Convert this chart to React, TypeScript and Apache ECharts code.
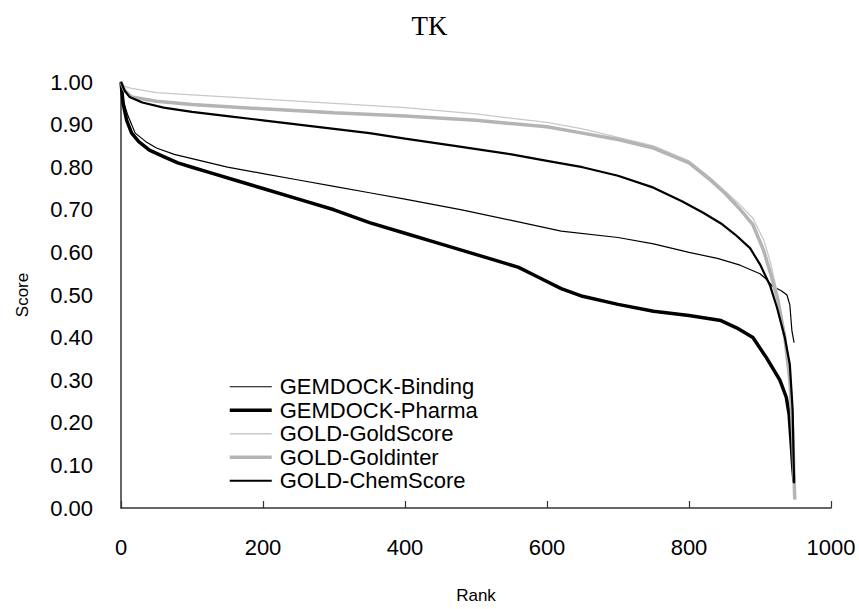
import React, { useEffect, useRef } from "react";
import * as echarts from "echarts";

// Rank positions and scores for each scoring function
const bindingRank = [0, 4, 10, 20, 35, 50, 75, 100, 150, 200, 250, 300, 350, 400, 480, 550, 620, 700, 750, 800, 840, 872, 900, 907, 918, 930, 938, 942, 945, 948];
const bindingScore = [1.0, 0.95, 0.92, 0.88, 0.86, 0.845, 0.83, 0.82, 0.80, 0.785, 0.77, 0.755, 0.74, 0.725, 0.70, 0.675, 0.65, 0.635, 0.62, 0.60, 0.586, 0.57, 0.55, 0.54, 0.52, 0.51, 0.50, 0.477, 0.415, 0.388];

const pharmaRank = [0, 3, 8, 15, 25, 40, 60, 80, 100, 130, 160, 200, 250, 300, 350, 400, 450, 490, 530, 560, 590, 620, 650, 700, 750, 800, 845, 867, 890, 909, 928, 937, 941, 944, 946, 948];
const pharmaScore = [1.0, 0.95, 0.91, 0.88, 0.86, 0.84, 0.825, 0.81, 0.80, 0.785, 0.77, 0.75, 0.725, 0.70, 0.67, 0.645, 0.62, 0.60, 0.58, 0.565, 0.54, 0.515, 0.497, 0.478, 0.462, 0.452, 0.44, 0.423, 0.40, 0.353, 0.30, 0.26, 0.22, 0.15, 0.10, 0.06];

const goldScoreRank = [0, 5, 15, 50, 100, 200, 300, 400, 500, 600, 650, 700, 750, 800, 830, 850, 870, 890, 905, 915, 925, 935, 942, 946, 948, 949];
const goldScoreScore = [1.0, 0.99, 0.985, 0.975, 0.97, 0.96, 0.95, 0.94, 0.925, 0.905, 0.89, 0.87, 0.85, 0.815, 0.775, 0.745, 0.715, 0.68, 0.63, 0.575, 0.50, 0.41, 0.31, 0.18, 0.08, 0.02];

const goldInterRank = [0, 5, 15, 50, 100, 200, 300, 400, 500, 600, 650, 700, 750, 800, 830, 850, 870, 890, 905, 915, 925, 935, 942, 946, 948, 949];
const goldInterScore = [1.0, 0.98, 0.965, 0.955, 0.947, 0.937, 0.928, 0.92, 0.91, 0.895, 0.88, 0.865, 0.845, 0.81, 0.77, 0.74, 0.705, 0.665, 0.605, 0.55, 0.49, 0.40, 0.30, 0.18, 0.07, 0.02];

const chemScoreRank = [0, 5, 12, 30, 60, 100, 150, 200, 250, 300, 350, 400, 470, 550, 600, 650, 700, 750, 790, 820, 845, 865, 886, 900, 914, 924, 935, 942, 946, 948];
const chemScoreScore = [1.0, 0.98, 0.965, 0.952, 0.94, 0.93, 0.92, 0.91, 0.90, 0.89, 0.88, 0.867, 0.85, 0.83, 0.815, 0.80, 0.78, 0.752, 0.72, 0.693, 0.668, 0.642, 0.61, 0.572, 0.523, 0.47, 0.40, 0.337, 0.23, 0.058];

const xTicks = { min: 0, max: 1000, interval: 200 };
const yTicks = { min: 0, max: 1, interval: 0.1 };

const pairs = (xs: number[], ys: number[]) => xs.map((x, i) => [x, ys[i]]);

const SANS = "'Liberation Sans', Arial, sans-serif";

// Stroke for each method: colour and width, shared by the curve and its legend key
const styles: Record<string, { color: string; width: number }> = {
  "GEMDOCK-Binding": { color: "#000000", width: 1.2 },
  "GEMDOCK-Pharma": { color: "#000000", width: 3.5 },
  "GOLD-GoldScore": { color: "#c8c8c8", width: 1.3 },
  "GOLD-Goldinter": { color: "#b4b4b4", width: 3.5 },
  "GOLD-ChemScore": { color: "#000000", width: 2.2 },
};

export default function App() {
  const ref = useRef<HTMLDivElement>(null);

  useEffect(() => {
    if (!ref.current) return;
    const chart = echarts.init(ref.current, undefined, { renderer: "svg" });

    const line = (name: string, data: number[][]) => ({
      name,
      type: "line",
      data,
      symbol: "none",
      showSymbol: false,
      lineStyle: { color: styles[name].color, width: styles[name].width },
      itemStyle: { color: styles[name].color, opacity: 0 },
      z: 2,
    });

    const names = Object.keys(styles);

    chart.setOption({
      animation: false,
      backgroundColor: "#ffffff",
      title: {
        text: "TK",
        left: "center",
        top: 7,
        textStyle: {
          fontFamily: "'Liberation Serif', 'Times New Roman', serif",
          fontSize: 27,
          fontWeight: "normal",
          color: "#000",
        },
      },
      legend: {
        orient: "vertical",
        left: 228,
        top: 375,
        padding: 0,
        itemGap: 0,
        itemWidth: 42,
        itemHeight: 12,
        itemStyle: { opacity: 0 },
        textStyle: {
          fontFamily: SANS,
          fontSize: 22,
          lineHeight: 23.5,
          color: "#000",
          padding: [0, 0, 0, 3],
        },
        data: names.map((n) => ({
          name: n,
          itemStyle: { opacity: 0 },
          lineStyle: { color: styles[n].color, width: styles[n].width },
        })),
      },
      grid: { left: 121, right: 28, top: 82, bottom: 97 },
      xAxis: {
        type: "value",
        min: xTicks.min,
        max: xTicks.max,
        interval: xTicks.interval,
        name: "Rank",
        nameLocation: "middle",
        nameGap: 79,
        nameTextStyle: { fontFamily: SANS, fontSize: 17, color: "#000" },
        axisLine: { show: true, lineStyle: { color: "#333", width: 1.5 } },
        axisTick: { show: true, inside: true, length: 7, lineStyle: { color: "#333", width: 1.2 } },
        axisLabel: {
          fontFamily: SANS,
          fontSize: 22,
          color: "#000",
          margin: 28,
          formatter: (v: number) => String(v),
        },
        splitLine: { show: false },
      },
      yAxis: {
        type: "value",
        min: yTicks.min,
        max: yTicks.max,
        interval: yTicks.interval,
        name: "Score",
        nameLocation: "middle",
        nameGap: 90,
        nameTextStyle: { fontFamily: SANS, fontSize: 17, color: "#000" },
        axisLine: { show: true, lineStyle: { color: "#333", width: 1.5 } },
        axisTick: { show: false },
        axisLabel: {
          fontFamily: SANS,
          fontSize: 22,
          color: "#000",
          margin: 28,
          formatter: (v: number) => v.toFixed(2),
        },
        splitLine: { show: false },
      },
      series: [
        line("GEMDOCK-Binding", pairs(bindingRank, bindingScore)),
        line("GEMDOCK-Pharma", pairs(pharmaRank, pharmaScore)),
        line("GOLD-GoldScore", pairs(goldScoreRank, goldScoreScore)),
        line("GOLD-Goldinter", pairs(goldInterRank, goldInterScore)),
        line("GOLD-ChemScore", pairs(chemScoreRank, chemScoreScore)),
      ],
    });

    return () => chart.dispose();
  }, []);

  return (
    <div
      ref={ref}
      style={{ position: "fixed", left: 0, top: 0, width: 859, height: 609 }}
    />
  );
}
